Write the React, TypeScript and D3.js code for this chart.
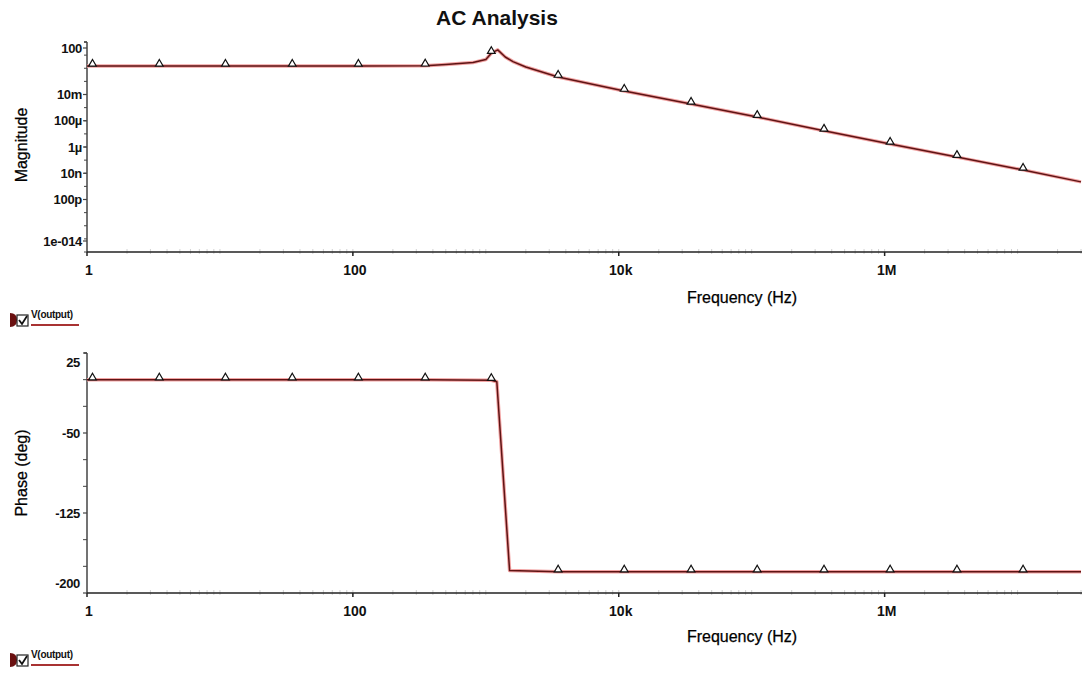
import React from 'react';
import * as d3 from 'd3';

// frequency points (Hz)
const magFreq = [1, 1.1, 3.5, 11, 35, 110, 350, 500, 800, 1000, 1100, 1230, 1400, 1600, 2000, 3500, 11000, 35000, 110000, 350000, 1.1e6, 3.5e6, 1.1e7, 3e7];
const magnitude = [1.5, 1.5, 1.5, 1.5, 1.5, 1.5, 1.55, 1.9, 2.7, 4.6, 14, 25, 7.2, 3.2, 1.24, 0.215, 0.0185, 1.9e-3, 1.9e-4, 1.7e-5, 1.7e-6, 1.7e-7, 1.8e-8, 2.2e-9];

const phaseFreq = [1, 1.1, 3.5, 11, 35, 110, 350, 1100, 1210, 1510, 3500, 11000, 35000, 110000, 350000, 1.1e6, 3.5e6, 1.1e7, 3e7];
const phase = [0, 0, 0, 0, 0, 0, 0, -0.5, -2, -179, -180, -180, -180, -180, -180, -180, -180, -180, -180];

const markerFreqs = [1.1, 3.5, 11, 35, 110, 350, 1100, 3500, 11000, 35000, 110000, 350000, 1.1e6, 3.5e6, 1.1e7];

const xTicks = [1, 100, 1e4, 1e6];
const xTickLabels = ['1', '100', '10k', '1M'];
const magTicks = [100, 1e-2, 1e-4, 1e-6, 1e-8, 1e-10, 1e-14];
const magTickLabels = ['100', '10m', '100µ', '1µ', '10n', '100p', '1e-014'];
const phaseTicks = [25, -50, -125, -200];
const phaseTickLabels = ['25', '-50', '-125', '-200'];
const phaseMinor = [0, -25, -75, -100, -150, -175];

const FONT = '"Liberation Sans", Arial, sans-serif';
const W = 1082;
const H = 677;

const x = d3.scaleLog().domain([1, 3e7]).range([87, 1081]);
const yMag = d3.scaleLog().domain([1e-14, 100]).range([252, 42]);
const yPhase = d3.scaleLinear().domain([-200, 25]).range([593, 353]);

const minorX: number[] = [];
for (let e = 0; e < 8; e++) {
  for (let m = 1; m < 10; m++) {
    const v = m * Math.pow(10, e);
    if (v > 1 && v <= 3e7) minorX.push(v);
  }
}
const minorMag: number[] = [];
for (let e = -14; e <= 2; e++) minorMag.push(Math.pow(10, e));

const triangle = d3.symbol().type(d3.symbolTriangle).size(26)();

function Trace({ fx, fy, ys }: { fx: number[]; fy: (v: number) => number; ys: number[] }) {
  const pts = fx.map((f, i) => [x(f), fy(ys[i])] as [number, number]);
  const path = d3.line()(pts) || '';
  const marks = pts.filter((_, i) => markerFreqs.includes(fx[i]));
  return (
    <g>
      <path d={path} fill="none" stroke="#f2a3a3" strokeWidth={3.5} strokeLinejoin="round" />
      <path d={path} fill="none" stroke="#5e1414" strokeWidth={1.5} strokeLinejoin="round" />
      {marks.map(([px, py], i) => (
        <path key={i} d={triangle} transform={`translate(${px},${py - 2})`} fill="#fff" stroke="#111" strokeWidth={1.2} />
      ))}
    </g>
  );
}

function XAxis({ y0, labelY }: { y0: number; labelY: number }) {
  return (
    <g>
      {minorX.map((v, i) => (
        <line key={i} x1={x(v)} x2={x(v)} y1={y0 - 3} y2={y0 + 2} stroke="#d2d2d2" strokeWidth={1} />
      ))}
      <line x1={87} x2={W} y1={y0} y2={y0} stroke="#222" strokeWidth={1.5} />
      {xTicks.map((v, i) => (
        <g key={i}>
          <line x1={x(v)} x2={x(v)} y1={y0} y2={y0 + 4} stroke="#222" strokeWidth={1.5} />
          <text x={x(v) + 2} y={y0 + 23} textAnchor="middle" fontFamily={FONT} fontWeight="bold" fontSize={14} fill="#111">
            {xTickLabels[i]}
          </text>
        </g>
      ))}
      <text x={742} y={labelY} textAnchor="middle" fontFamily={FONT} fontSize={16} fill="#000" stroke="#000" strokeWidth={0.25}>
        Frequency (Hz)
      </text>
    </g>
  );
}

function Legend({ y0 }: { y0: number }) {
  return (
    <g>
      <path d={`M10,${y0 - 7} Q17,${y0 - 7} 17,${y0} Q17,${y0 + 7} 10,${y0 + 7} Z`} fill="#6a1010" />
      <rect x={17} y={y0 - 5} width={11} height={11} fill="#fff" stroke="#222" strokeWidth={1.2} />
      <path d={`M19,${y0} L22,${y0 + 4} L27,${y0 - 4}`} fill="none" stroke="#111" strokeWidth={1.8} />
      <text x={31} y={y0 - 2} fontFamily={FONT} fontWeight="bold" fontSize={10} fill="#111" letterSpacing={-0.3}>
        V(output)
      </text>
      <line x1={31} x2={79} y1={y0 + 5} y2={y0 + 5} stroke="#a83232" strokeWidth={2} />
    </g>
  );
}

export default function App() {
  return (
    <svg width={W} height={H} style={{ position: 'absolute', left: 0, top: 0, background: '#fff' }}>
      <rect width={W} height={H} fill="#fff" />
      <text x={497} y={25} textAnchor="middle" fontFamily={FONT} fontWeight="bold" fontSize={21} fill="#111">
        AC Analysis
      </text>

      {/* magnitude panel */}
      <text transform="translate(27,145) rotate(-90)" textAnchor="middle" fontFamily={FONT} fontSize={16} fill="#000" stroke="#000" strokeWidth={0.25}>
        Magnitude
      </text>
      {minorMag.map((v, i) => (
        <line key={i} x1={84} x2={87} y1={yMag(v)} y2={yMag(v)} stroke="#444" strokeWidth={1} />
      ))}
      <line x1={87} x2={87} y1={42} y2={252} stroke="#444" strokeWidth={1.5} />
      <line x1={84} x2={87} y1={42} y2={42} stroke="#444" strokeWidth={1.5} />
      {magTicks.map((v, i) => {
        const ty = Math.min(Math.max(yMag(v), 48), 241);
        return (
          <g key={i}>
            <line x1={83} x2={87} y1={ty} y2={ty} stroke="#444" strokeWidth={1.2} />
            <text x={82} y={ty + 4.5} textAnchor="end" fontFamily={FONT} fontWeight="bold" fontSize={13} fill="#111" letterSpacing={-0.3}>
              {magTickLabels[i]}
            </text>
          </g>
        );
      })}
      <XAxis y0={252} labelY={303} />
      <Trace fx={magFreq} fy={yMag} ys={magnitude} />
      <Legend y0={320} />

      {/* phase panel */}
      <text transform="translate(27,473) rotate(-90)" textAnchor="middle" fontFamily={FONT} fontSize={16} fill="#000" stroke="#000" strokeWidth={0.25}>
        Phase (deg)
      </text>
      {phaseMinor.map((v, i) => (
        <line key={i} x1={83} x2={87} y1={yPhase(v)} y2={yPhase(v)} stroke="#444" strokeWidth={1} />
      ))}
      <line x1={87} x2={87} y1={353} y2={593} stroke="#444" strokeWidth={1.5} />
      <line x1={84} x2={87} y1={353} y2={353} stroke="#444" strokeWidth={1.5} />
      {phaseTicks.map((v, i) => {
        const ty = Math.min(Math.max(yPhase(v), 362), 583);
        return (
          <g key={i}>
            <line x1={83} x2={87} y1={yPhase(v)} y2={yPhase(v)} stroke="#444" strokeWidth={1.2} />
            <text x={80} y={ty + 5} textAnchor="end" fontFamily={FONT} fontWeight="bold" fontSize={13} fill="#111" letterSpacing={-0.3}>
              {phaseTickLabels[i]}
            </text>
          </g>
        );
      })}
      <XAxis y0={593} labelY={642} />
      <Trace fx={phaseFreq} fy={yPhase} ys={phase} />
      <Legend y0={660} />
    </svg>
  );
}
